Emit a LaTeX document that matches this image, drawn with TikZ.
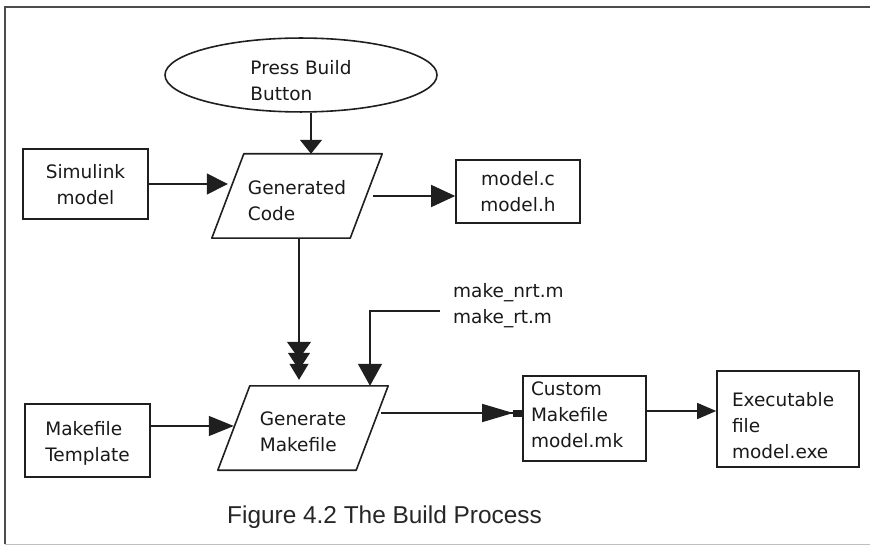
\documentclass[tikz,border=0pt]{standalone}
\usepackage{fontspec}
\setmainfont{DejaVu Sans}
\newfontfamily\capfont{Liberation Sans}
\usetikzlibrary{arrows.meta,shapes.geometric}

% invisible struts that nudge a text block down (first line) or up (last line)
\newcommand\lift[1]{\rule{0pt}{#1}}
\newcommand\sink[1]{\rule[-#1]{0pt}{#1}}

\begin{document}
\begin{tikzpicture}[x=1pt,y=-1pt,
  ink/.style={draw=black!88, line width=1.6pt},
  lbl/.style={font=\fontsize{18.5}{26}\selectfont, text=black!90},
  box/.style={ink, lbl, rectangle, inner sep=0pt, align=left},
  para/.style={lbl, rectangle, inner sep=0pt, align=left,
               minimum width=138pt, minimum height=84pt},
  paraline/.style={ink, line join=round},
  flow/.style={draw=black!88, line width=1.4pt},
]
\useasboundingbox (0,0) rectangle (870,548);

% page frame
\draw[draw=black!70, line width=1.8pt] (870,7) -- (5,7) -- (5,544);
\draw[draw=black!25, line width=1pt] (5,544) -- (870,544);

% nodes
\node[ellipse, ink, lbl, align=left, minimum width=272pt, minimum height=60pt,
      inner sep=0pt] (press) at (301,75) {\lift{26pt}Press Build\\Button};
\node[box, align=center, minimum width=125pt, minimum height=70pt]
      (sim) at (85.5,184) {\lift{16pt}Simulink\\model};
\node[para] (gc) at (297,196) {\lift{24pt}Generated\\Code};
\node[box, align=center, minimum width=124pt, minimum height=63pt]
      (mc) at (518,191.5) {model.c\\model.h};
\node[box, minimum width=125pt, minimum height=73pt]
      (mt) at (87.5,440.5) {\lift{20pt}Makefile\\Template};
\node[para] (gm) at (303,428) {\lift{22pt}Generate\\Makefile};
\node[lbl, align=left, anchor=west, inner sep=0pt]
      (mk) at (453,305.5) {make\_nrt.m\\make\_rt.m};
\node[box, text width=107pt, inner xsep=8pt, minimum height=85pt]
      (cm) at (584.5,418.5) {Custom\\Makefile\\model.mk\sink{8pt}};
\node[box, text width=112pt, inner xsep=15pt, minimum height=96pt]
      (ex) at (788,419) {\lift{28pt}Executable\\file\\model.exe};
\node[font=\capfont\fontsize{24.4}{28}\selectfont, text=black!85, inner sep=0pt,
      anchor=base] (cap) at (384.5,523) {Figure 4.2 The Build Process};

% parallelogram outlines
\foreach \p in {gc,gm}
  \draw[paraline] ([xshift=16pt]\p.north west) -- ([xshift=16pt]\p.north east)
     -- ([xshift=-16pt]\p.south east) -- ([xshift=-16pt]\p.south west) -- cycle;

% connectors
\draw[flow, -{Triangle[length=14pt,width=22pt]}]
  ([xshift=10pt]press.south) -- ([xshift=14pt]gc.north);
\draw[flow, -{Triangle[length=21pt,width=21pt]}]
  (sim.east) -- (sim.east -| gc.west);
\draw[flow, -{Triangle[length=24pt,width=22pt]}]
  ([xshift=7pt]gc.east) -- (gc.east -| mc.west);
\draw[flow, shorten >=6pt,
      -{Triangle[length=17pt,width=24pt,sep=-6pt]
        Triangle[length=17pt,width=22pt,sep=-6pt]
        Triangle[length=16pt,width=19pt]}]
  ([xshift=2pt]gc.south) -- ([xshift=2pt]gc.south |- gm.north);

\coordinate (mkout) at ([xshift=-13pt,yshift=-5.5pt]mk.west);
\draw[flow, -{Triangle[length=22pt,width=24pt]}]
  (mkout) -| ([xshift=67pt]gm.north);

\coordinate (mtout) at ([yshift=14.5pt]mt.east);
\draw[flow, -{Triangle[length=25pt,width=20pt]}]
  (mtout) -- (mtout -| gm.west);

\coordinate (gmout) at ([xshift=9pt,yshift=15pt]gm.east);
\draw[flow, -{Triangle[length=31pt,width=18pt] Rectangle[length=9pt,width=7pt]}]
  (gmout) -- (gmout -| cm.west);

\coordinate (cmout) at ([yshift=7.5pt]cm.east);
\draw[flow, -{Triangle[length=19pt,width=16pt]}]
  (cmout) -- (cmout -| ex.west);
\end{tikzpicture}
\end{document}
